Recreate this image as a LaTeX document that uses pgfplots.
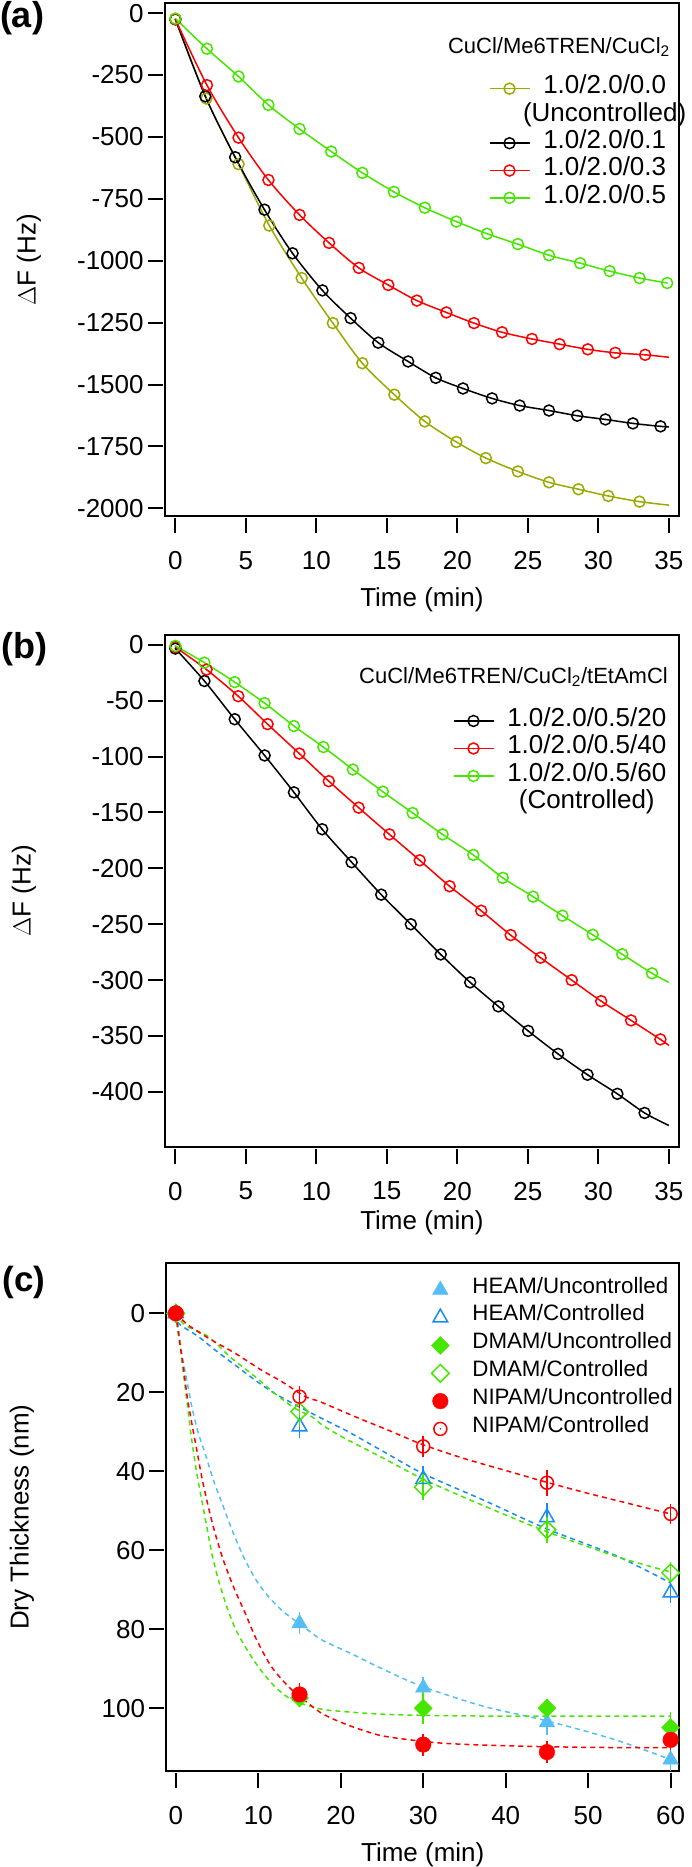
\documentclass[border=0pt]{standalone}
\usepackage{fontspec}
\setmainfont{Liberation Sans}
\usepackage{calc}
\usepackage{pgfplots}
\pgfplotsset{compat=1.18}

\definecolor{olv}{RGB}{153,170,0}
\definecolor{lgr}{RGB}{70,230,0}
\definecolor{rd}{RGB}{255,0,0}
\definecolor{lbl}{RGB}{85,190,245}
\definecolor{bl}{RGB}{25,140,240}

\pgfdeclareplotmark{odot}{%
  \pgfpathcircle{\pgfpointorigin}{\pgfplotmarksize}\pgfusepathqstroke
  \pgfpathcircle{\pgfpointorigin}{0.8pt}\pgfusepathqfill}

\pgfplotsset{
  igor/.style={
    scale only axis,
    axis line style={line width=2pt},
    tick align=outside,
    xtick pos=left, ytick pos=left,
    major tick length=15pt,
    minor tick num=0,
    tick style={line width=2pt, black},
    xtick style={yshift=-2pt},
    ytick style={xshift=-2pt},
    tick label style={font=\fontsize{26}{30}\selectfont},
    /pgf/number format/assume math mode=true,
    /pgf/number format/1000 sep={},
    xticklabel style={anchor=north, inner sep=0pt, yshift=-20pt},
    yticklabel style={anchor=east, inner sep=0pt, xshift=-6pt},
    every axis x label/.style={at={(axis description cs:0.5,0)}, anchor=center, font=\fontsize{26}{30}\selectfont},
    every axis y label/.style={at={(axis description cs:0,0.5)}, anchor=center, font=\fontsize{26}{30}\selectfont},
    legend cell align=left,
  },
  dline/.style={line width=1.5pt, smooth, mark=odot, mark size=5.5pt, mark options={solid, line width=1.5pt}},
  limg/.style={legend image code/.code={\draw[mark repeat=2,mark phase=2,##1] plot coordinates {(0pt,0pt) (20pt,0pt) (40pt,0pt)};}},
  fit/.style={line width=1.5pt, smooth, dash pattern=on 5pt off 4pt, no marks, forget plot},
  ebar/.style={error bars/.cd, y dir=both, y explicit, error mark=-, error mark options={line width=1.5pt, mark size=7pt}, error bar style={line width=1.5pt}},
}

\begin{document}
\begin{tikzpicture}
\useasboundingbox (0,0) rectangle (691pt,-1867pt);

% ---------------- (a)
\begin{axis}[igor, limg,
  at={(164.8pt,-516pt)}, anchor=south west,
  width=514.2pt, height=512.8pt,
  xmin=-0.75, xmax=35.72, ymin=-2031, ymax=40,
  xtick={0,5,...,35}, ytick={0,-250,-500,-750,-1000,-1250,-1500,-1750,-2000},
  xlabel={Time (min)}, ylabel={$\Delta$F (Hz)},
  xlabel style={yshift=-84pt},
  ylabel style={xshift=-136pt, rotate=90},
  legend style={draw=none, fill=none, at={(rel axis cs:0.63,0.86)}, anchor=north west,
    inner sep=0pt, outer sep=0pt, row sep=0pt, column sep=13pt,
    font=\fontsize{26}{28}\selectfont,
    nodes={inner sep=0pt, text height=19pt, text depth=8.3pt}},
]
\addplot[olv, dline, mark indices={1,2,3,4,5,6,7,8,9,10,11,12,13,14,15,16}, forget plot] table {
0 -25
2.2 -345
4.48 -610
6.66 -858
8.96 -1070
11.17 -1252
13.26 -1414
15.53 -1541
17.69 -1649
19.93 -1732
22.02 -1797
24.29 -1851
26.5 -1895
28.59 -1923
30.7 -1950
32.92 -1973
35 -1987
};
\addplot[black, dline, mark indices={1,2,3,4,5,6,7,8,9,10,11,12,13,14,15,16,17,18}, forget plot] table {
0 -25
2.12 -336
4.24 -582
6.32 -794
8.31 -970
10.43 -1120
12.43 -1232
14.39 -1331
16.51 -1407
18.47 -1473
20.40 -1516
22.46 -1556
24.42 -1585
26.5 -1605
28.5 -1626
30.5 -1641
32.45 -1657
34.41 -1669
35 -1671
};
\addplot[rd, dline, mark indices={1,2,3,4,5,6,7,8,9,10,11,12,13,14,15,16,17}, forget plot] table {
0 -25
2.24 -291
4.48 -503
6.60 -674
8.81 -815
10.9 -928
13.01 -1029
15.1 -1098
17.13 -1161
19.22 -1209
21.18 -1252
23.17 -1289
25.29 -1316
27.25 -1337
29.25 -1358
31.2 -1372
33.32 -1380
35 -1390
};
\addplot[lgr, dline, forget plot] table {
0 -22
2.24 -144
4.48 -256
6.60 -371
8.81 -468
11.05 -559
13.26 -645
15.5 -722
17.69 -786
19.93 -842
22.11 -891
24.29 -933
26.5 -978
28.71 -1010
30.8 -1042
32.92 -1070
34.88 -1090
};
\addlegendimage{olv, dline}
\addlegendentry{1.0/2.0/0.0}
\addlegendimage{empty legend}
\addlegendentry{\makebox[\widthof{1.0/2.0/0.0}]{(Uncontrolled)}}
\addlegendimage{black, dline}
\addlegendentry{1.0/2.0/0.1}
\addlegendimage{rd, dline}
\addlegendentry{1.0/2.0/0.3}
\addlegendimage{lgr, dline}
\addlegendentry{1.0/2.0/0.5}
\end{axis}
\node[anchor=east, inner sep=0pt, font=\fontsize{22}{24}\selectfont] at (670pt,-47pt) {CuCl/Me6TREN/CuCl\textsubscript{2}};
\node[anchor=center, inner sep=0pt, font=\fontsize{36}{40}\selectfont\bfseries] at (22pt,-18pt) {(a)};

% ---------------- (b)
\begin{axis}[igor, limg,
  at={(164.8pt,-1146.7pt)}, anchor=south west,
  width=514.2pt, height=512.2pt,
  xmin=-0.75, xmax=35.72, ymin=-449, ymax=9.2,
  xtick={0,5,...,35}, ytick={0,-50,...,-400},
  xlabel={Time (min)}, ylabel={$\Delta$F (Hz)},
  xlabel style={yshift=-76.5pt},
  ylabel style={xshift=-140.8pt, rotate=90},
  legend style={draw=none, fill=none, at={(rel axis cs:0.56,0.858)}, anchor=north west,
    inner sep=0pt, outer sep=0pt, row sep=0pt, column sep=13pt,
    font=\fontsize{26}{28}\selectfont,
    nodes={inner sep=0pt, text height=19pt, text depth=8.5pt}},
]
\addplot[black, dline, mark indices={1,2,3,4,5,6,7,8,9,10,11,12,13,14,15,16,17}, forget plot] table {
0 -3.4
2.06 -32.4
4.21 -66.6
6.33 -99
8.41 -132
10.41 -165
12.5 -194.5
14.6 -223.5
16.7 -250
18.82 -277
20.91 -302
22.91 -323.5
25.02 -345.4
27.14 -366
29.23 -384.6
31.35 -401.7
33.28 -418.8
35 -430
};
\addplot[rd, dline, mark indices={1,2,3,4,5,6,7,8,9,10,11,12,13,14,15,16,17}, forget plot] table {
0 -2
2.21 -22.2
4.46 -46
6.54 -71
8.79 -97.3
10.88 -122
13.0 -145.7
15.18 -169.6
17.33 -192.8
19.45 -216
21.69 -237.9
23.78 -259.7
25.9 -279.9
28.11 -300
30.2 -318.8
32.32 -336
34.4 -353
35 -358.4
};
\addplot[lgr, dline, mark indices={1,2,3,4,5,6,7,8,9,10,11,12,13,14,15,16,17}, forget plot] table {
0 -1
2.06 -16
4.21 -33.4
6.33 -52.2
8.41 -72.7
10.5 -91.5
12.59 -111.6
14.71 -131.4
16.83 -150.5
18.95 -169.6
21.13 -188
23.22 -208.5
25.37 -225.3
27.45 -242.3
29.6 -259.4
31.69 -276.8
33.81 -293.9
35 -302
};
\addlegendimage{black, dline}
\addlegendentry{1.0/2.0/0.5/20}
\addlegendimage{rd, dline}
\addlegendentry{1.0/2.0/0.5/40}
\addlegendimage{lgr, dline}
\addlegendentry{1.0/2.0/0.5/60}
\addlegendimage{empty legend}
\addlegendentry{\makebox[\widthof{1.0/2.0/0.5/60}]{(Controlled)}}
\end{axis}
\node[anchor=east, inner sep=0pt, font=\fontsize{22}{24}\selectfont] at (668pt,-677pt) {CuCl/Me6TREN/CuCl\textsubscript{2}/tEtAmCl};
\node[anchor=center, inner sep=0pt, font=\fontsize{36}{40}\selectfont\bfseries] at (24pt,-649pt) {(b)};

% ---------------- (c)
\begin{axis}[igor,
  at={(166.2pt,-1771pt)}, anchor=south west,
  width=513.1pt, height=507.7pt,
  xmin=-1.17, xmax=61.05, ymin=-12.66, ymax=115.9, y dir=reverse,
  xtick={0,10,...,60}, ytick={0,20,...,100},
  xlabel={Time (min)}, ylabel={Dry Thickness (nm)},
  xlabel style={yshift=-83.5pt},
  ylabel style={xshift=-144.2pt, rotate=90},
  legend image code/.code={\draw[#1] plot coordinates {(0pt,0pt)};},
  legend style={draw=none, fill=none, at={(rel axis cs:0.5167,0.975)}, anchor=north west,
    inner sep=0pt, outer sep=0pt, row sep=0pt, column sep=23pt,
    font=\fontsize{22.3}{26}\selectfont,
    nodes={inner sep=0pt, text height=17pt, text depth=10.8pt}},
]
% fits
\addplot[lbl, fit] table {
0 0
0.3 3.4
0.71 10.1
1.32 16.9
1.93 23.6
2.73 30.4
3.54 35.4
4.55 42.2
5.76 49
6.98 55.7
8.4 62.5
10 68.4
11.6 72.6
13.25 75.9
15.7 79.7
17.7 82.7
21.3 86.2
25 90
29.9 94.5
37.3 99.5
45 103.2
53.3 108
60 113
};
\addplot[bl, fit] table {
0 0
0.3 2.5
2.73 5.9
4.76 9.3
7.18 13.1
9.6 16.9
12 20.3
14.9 23.6
17.3 26.2
19.5 28.5
21.1 30.2
25 34.8
30 40.6
37.3 47.3
45 54.6
53.3 61.3
60 68.3
};
\addplot[lgr, fit] table {
0 0
0.51 7.6
0.71 11.8
1.12 18.6
1.52 25.3
1.93 32.1
2.54 40.5
3.14 47.3
3.75 54
4.36 60.8
5.16 67.5
6.18 74.3
7.18 79.7
8.4 84.4
10 89.5
12 94.5
14.1 97.9
16.5 99.6
18.1 100.4
21.3 101
25 101.5
30 101.8
40 102
60 102
};
\addplot[lgr, fit] table {
0 0
1.12 3.0
3.94 5.9
6.78 11.4
9.6 16
12 20.3
14.46 24.1
16.5 26.2
17.9 28.5
20.7 31.9
25 36.5
30 42
37.3 48.7
45 55.3
53.3 61.5
60 65.5
};
\addplot[rd, fit] table {
0 0
0.3 5.1
0.91 13.5
1.32 20.3
1.93 27.8
2.54 34.6
3.14 41.4
3.94 49
4.76 55.7
5.76 62.5
6.98 69.2
8.4 75.9
9.8 82.7
11.6 89.5
13.65 94.5
15.3 97.5
17.7 101.3
20.3 103.8
23 105.8
25.6 107.2
32 108.8
40 109.5
50 109.9
60 110
};
\addplot[rd, fit] table {
0 0
1.52 3.0
4.36 6.8
7.18 10.1
10.4 14.4
12.85 17.3
15.7 21.1
17.5 22.4
22 26.4
26 29.8
30 33.3
35 36.8
40 39.8
45 42.8
50 45.6
55 48.2
60 50.8
};
% data
\addplot[lbl, only marks, mark=triangle*, mark size=9pt, ebar] table[y error index=2] {
0 0 0.5
15 78.5 1
30 94.8 1
45 103.6 1.5
60 113 1
};
\addlegendentry{HEAM/Uncontrolled}
\addplot[bl, only marks, mark=triangle, mark size=8.5pt, mark options={line width=1.5pt}, ebar] table[y error index=2] {
0 0 0.5
15 28.7 1
30 42 1.5
45 51.7 2
60 70.7 1
};
\addlegendentry{HEAM/Controlled}
\addplot[lgr, only marks, mark=square*, mark size=6.4pt, mark options={rotate=45}, ebar] table[y error index=2] {
0 0 0.5
15 97.4 0.5
30 100 2.2
45 100 0.5
60 104.9 2.2
};
\addlegendentry{DMAM/Uncontrolled}
\addplot[lgr, only marks, mark=square, mark size=6.2pt, mark options={rotate=45, line width=1.5pt}, ebar] table[y error index=2] {
0 0 0.5
15 24.9 2
30 44 1.5
45 54.8 1.5
60 65.7 1
};
\addlegendentry{DMAM/Controlled}
\addplot[rd, only marks, mark=*, mark size=7.8pt, ebar] table[y error index=2] {
0 0 0.5
15 96.5 1
30 109.2 1
45 111.1 1
60 108 1
};
\addlegendentry{NIPAM/Uncontrolled}
\addplot[rd, only marks, mark=odot, mark size=6.5pt, mark options={line width=1.5pt}, ebar] table[y error index=2] {
0 0 0.5
15 21.1 1
30 33.7 0.8
45 42.9 1.5
60 50.8 0.8
};
\addlegendentry{NIPAM/Controlled}
\end{axis}
\node[anchor=center, inner sep=0pt, font=\fontsize{35}{40}\selectfont\bfseries] at (24pt,-1282pt) {(c)};
\end{tikzpicture}
\end{document}
